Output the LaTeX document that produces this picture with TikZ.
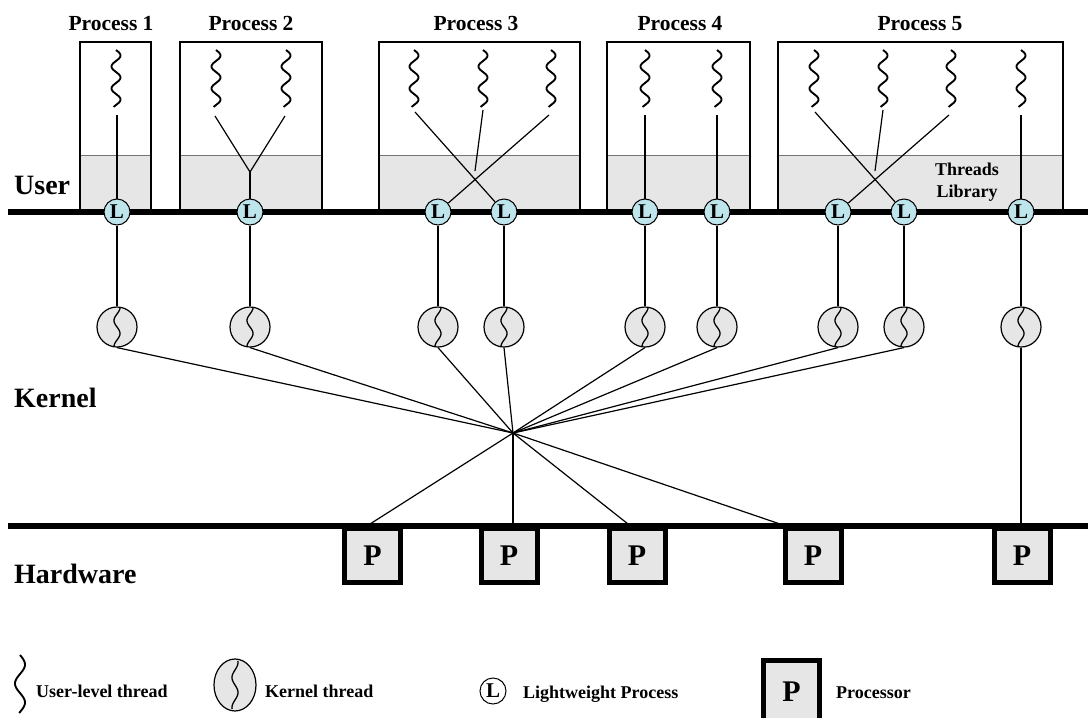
\documentclass[tikz,border=0pt]{standalone}
\usepackage{fontspec}
\setmainfont{Liberation Serif}
\usetikzlibrary{shapes.geometric}
\definecolor{lblue}{RGB}{190,228,236}
\definecolor{lgray}{RGB}{230,230,230}
\definecolor{bandline}{RGB}{115,115,115}
\begin{document}
\begin{tikzpicture}[x=1pt,y=-1pt,
  layerlbl/.style={font=\bfseries\fontsize{28}{30}\selectfont, anchor=base west, inner sep=0},
  ptitle/.style={font=\bfseries\fontsize{21.5}{24}\selectfont, anchor=base, inner sep=0},
  legtxt/.style={font=\bfseries\fontsize{18}{20}\selectfont, anchor=base west, inner sep=0},
  libtxt/.style={font=\bfseries\fontsize{18}{22}\selectfont, align=center, inner sep=0},
  lwp/.style={circle, draw, fill=lblue, minimum size=26pt, inner sep=0, line width=1pt, font=\bfseries\fontsize{21}{21}\selectfont},
  kth/.style={circle, draw, fill=lgray, minimum size=40pt, inner sep=0, line width=1.2pt},
  proc/.style={draw, line width=5pt, fill=lgray, minimum width=56pt, minimum height=54pt, inner sep=0, font=\bfseries\fontsize{30}{30}\selectfont},
  pbox/.style={line width=2.5pt},
  band/.style={fill=lgray},
  bandedge/.style={draw=bandline, line width=1pt},
  conn/.style={line width=1.2pt},
  bar/.style={line width=5.5pt},
  uthr/.pic={\draw[line width=1.9pt] plot[domain=0:57,samples=80,smooth] ({4.5*sin(\x*16.3636)},\x);},
  kthr/.pic={\draw[line width=1.3pt] plot[domain=-19:19,samples=60,smooth] ({3*sin(\x*13.846)},\x);}
]
\useasboundingbox (0,0) rectangle (1088,718);
\clip (0,0) rectangle (1088,718);

% process bands and boxes
\foreach \a/\b in {80/151,180/322,379/580,607/750,778/1063}{
  \fill[band] (\a,155) rectangle (\b,212);
  \draw[bandedge] (\a,155) -- (\b,155);
  \draw[pbox] (\a,42) rectangle (\b,212);
}

% titles
\node[ptitle] (t1) at (111,30) {Process 1};
\node[ptitle] (t2) at (251,30) {Process 2};
\node[ptitle] (t3) at (476,30) {Process 3};
\node[ptitle] (t4) at (680,30) {Process 4};
\node[ptitle] (t5) at (920,30) {Process 5};

\node[libtxt] (lib) at (967,182) {Threads\\Library};

% layer labels
\node[layerlbl] (user) at (14,194) {User};
\node[layerlbl] (kern) at (14,407) {Kernel};
\node[layerlbl] (hw) at (14,583) {Hardware};

% user-level threads
\foreach \px in {116,216,286,414,483,551,645,717,814,883,951,1021}{
  \pic at (\px,50) {uthr};
}
\coordinate (u11) at (117,115);
\coordinate (u21) at (215,116);
\coordinate (u22) at (285,116);
\coordinate (j2) at (250,172);
\coordinate (u31) at (415,112);
\coordinate (u32) at (483,110);
\coordinate (u33) at (549,115);
\coordinate (j3) at (475,171);
\coordinate (u41) at (645,115);
\coordinate (u42) at (717,115);
\coordinate (u51) at (815,112);
\coordinate (u52) at (883,110);
\coordinate (u53) at (949,115);
\coordinate (j5) at (875,171);
\coordinate (u54) at (1021,115);

% bars
\draw[bar] (8,212) -- (1088,212);
\draw[bar] (8,526) -- (1088,526);

% lightweight processes
\node[lwp] (l1) at (117,212) {L};
\node[lwp] (l2) at (250,212) {L};
\node[lwp] (l3) at (438,212) {L};
\node[lwp] (l4) at (504,212) {L};
\node[lwp] (l5) at (645,212) {L};
\node[lwp] (l6) at (717,212) {L};
\node[lwp] (l7) at (838,212) {L};
\node[lwp] (l8) at (904,212) {L};
\node[lwp] (l9) at (1021,212) {L};

% thread-to-LWP connectors
\draw[conn] (u11) -- (l1);
\draw[conn] (u21) -- (j2) -- (u22);
\draw[conn] (j2) -- (l2);
\draw[conn] (u31) -- (l4);
\draw[conn] (u33) -- (l3);
\draw[conn] (u32) -- (j3);
\draw[conn] (u41) -- (l5);
\draw[conn] (u42) -- (l6);
\draw[conn] (u51) -- (l8);
\draw[conn] (u53) -- (l7);
\draw[conn] (u52) -- (j5);
\draw[conn] (u54) -- (l9);

% kernel threads
\foreach \i/\px in {1/117,2/250,3/438,4/504,5/645,6/717,7/838,8/904,9/1021}{
  \node[kth] (k\i) at (\px,327) {};
  \pic at (\px,327) {kthr};
  \draw[conn] (l\i) -- (k\i);
}

% hub
\coordinate (hub) at (513,433);
\foreach \i in {1,...,8}{ \draw[conn] (k\i.south) -- (hub); }

% processors
\node[proc] (p1) at (372.5,555.5) {P};
\node[proc] (p2) at (509,555.5) {P};
\node[proc] (p3) at (637,555.5) {P};
\node[proc] (p4) at (813,555.5) {P};
\node[proc] (p5) at (1022,555.5) {P};

\coordinate (h1) at (370,524);
\coordinate (h2) at (513,524);
\coordinate (h3) at (628,524);
\coordinate (h4) at (780,524);
\coordinate (h5) at (1021,524);
\draw[conn] (hub) -- (h1);
\draw[conn] (hub) -- (h2);
\draw[conn] (hub) -- (h3);
\draw[conn] (hub) -- (h4);
\draw[conn] (k9.south) -- (h5);

% legend
\draw[line width=1.9pt] plot[domain=0:58,samples=80,smooth] ({20+5*sin(\x*9.4737)},655+\x);
\node[legtxt] (lg1) at (36,697) {User-level thread};
\node[kth, ellipse, minimum width=42pt, minimum height=52pt] (lgk) at (235,685) {};
\draw[line width=1.3pt] plot[domain=-24:24,samples=60,smooth] ({235+3*sin(\x*12)},685+\x);
\node[legtxt] (lg2) at (265,697) {Kernel thread};
\node[lwp, fill=white] (lgl) at (493,691) {L};
\node[legtxt] (lg3) at (523,698) {Lightweight Process};
\node[proc, minimum height=62pt] (lgp) at (791.5,691.5) {P};
\node[legtxt] (lg4) at (836,698) {Processor};
\end{tikzpicture}
\end{document}
